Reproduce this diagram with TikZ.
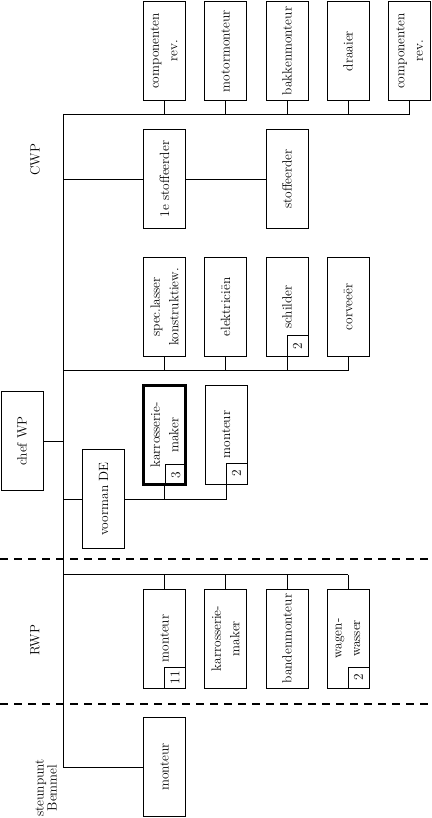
\documentclass[tikz,border=0pt]{standalone}
\usetikzlibrary{positioning}
\tikzset{
  job/.style={draw,rotate=90,minimum width=99pt,minimum height=42pt,
    inner sep=1pt,align=center,font=\fontsize{13.4}{18.5}\selectfont},
  keyjob/.style={job,line width=2.6pt},
  cnt/.style={draw,rotate=90,minimum size=21pt,inner sep=0pt,
    font=\fontsize{13.4}{18.5}\selectfont},
  dept/.style={rotate=90,align=center,font=\fontsize{13.4}{13}\selectfont},
  sep/.style={dash pattern=on 8pt off 6pt,line width=1.2pt}
}
\begin{document}
\begin{tikzpicture}[x=1pt,y=-1pt,line width=0.9pt]
  \useasboundingbox (0,0) rectangle (431,818);
  % afdelingen
  \node[dept] (cwp) at (35,160) {CWP};
  \node[dept] (rwp) at (35,640) {RWP};
  \node[dept] (bem) at (46,788) {steunpunt\\Bemmel};
  \draw[sep] (0,559) -- (431,559);
  \draw[sep] (0,704) -- (431,704);
  % CWP
  \node[job] (c1) at (164,51) {componenten\\rev.};
  \node[job] (c2) at (225.5,51) {motormonteur};
  \node[job] (c3) at (287,51) {bakkenmonteur};
  \node[job] (c4) at (348,51) {draaier};
  \node[job] (c5) at (409.5,51) {componenten\\rev.};
  \node[job] (s1) at (164.5,179) {1e stoffeerder};
  \node[job] (s2) at (287,179) {stoffeerder};
  \node[job] (k1) at (164.5,307) {spec.lasser\\konstruktiew.};
  \node[job] (k2) at (225.5,307) {elektriciën};
  \node[job] (k3) at (287,307) {schilder};
  \node[job] (k4) at (348,307) {corveeër};
  \node[cnt,anchor=south west] (k3n) at (k3.south west) {2};
  \node[job] (chef) at (22,441) {chef WP};
  \node[job] (vm) at (103.7,499) {voorman DE};
  \node[keyjob] (km) at (164.5,435) {karrosserie-\\maker};
  \node[cnt,anchor=south west] (kmn) at (km.south west) {3};
  \node[job] (m2) at (226,434.5) {monteur};
  \node[cnt,anchor=south west] (m2n) at (m2.south west) {2};
  % RWP
  \node[job] (r1) at (164.5,638.5) {monteur};
  \node[cnt,anchor=south west] (r1n) at (r1.south west) {11};
  \node[job] (r2) at (225.5,638.5) {karrosserie-\\maker};
  \node[job] (r3) at (287,638.5) {bandenmonteur};
  \node[job] (r4) at (348,638.5) {wagen-\\wasser};
  \node[cnt,anchor=south west] (r4n) at (r4.south west) {2};
  % steunpunt
  \node[job] (sb) at (164.5,767) {monteur};
  % lijnen
  \coordinate (top) at (63,114);
  \coordinate (end) at (63,767);
  \coordinate (bus3) at (63,370.5);
  \coordinate (bus4) at (63,574.5);
  \draw (top) -- (end) -- (sb);
  \draw (top) -- (c5 |- top);
  \draw (c1) -- (c1 |- top);
  \draw (c2) -- (c2 |- top);
  \draw (c3) -- (c3 |- top);
  \draw (c4) -- (c4 |- top);
  \draw (c5) -- (c5 |- top);
  \draw (s1 -| top) -- (s1) -- (s2);
  \draw (bus3) -- (k4 |- bus3);
  \draw (k1) -- (k1 |- bus3);
  \draw (k2) -- (k2 |- bus3);
  \draw (k3) -- (k3 |- bus3);
  \draw (k4) -- (k4 |- bus3);
  \draw (chef) -- (chef -| top);
  \draw (vm -| top) -- (vm) -- (vm -| m2) -- (m2);
  \draw (km) -- (km |- vm);
  \draw (bus4) -- (r4 |- bus4);
  \draw (r1) -- (r1 |- bus4);
  \draw (r2) -- (r2 |- bus4);
  \draw (r3) -- (r3 |- bus4);
  \draw (r4) -- (r4 |- bus4);
\end{tikzpicture}
\end{document}
